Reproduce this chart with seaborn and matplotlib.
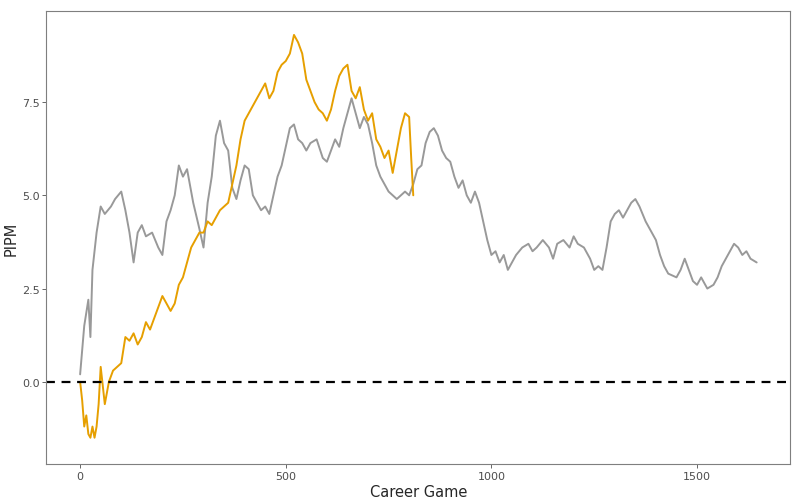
import matplotlib
matplotlib.use("Agg")
import matplotlib.pyplot as plt
import seaborn as sns

gray_x = [0,10,20,25,30,40,50,60,75,85,100,110,120,130,140,150,160,175,190,200,210,220,230,240,250,260,275,290,300,310,320,330,340,350,360,370,380,390,400,410,420,430,440,450,460,470,480,490,500,510,520,530,540,550,560,575,590,600,610,620,630,640,650,660,670,680,690,700,710,720,730,740,750,760,770,780,790,800,810,820,830,840,850,860,870,880,890,900,910,920,930,940,950,960,970,980,990,1000,1010,1020,1030,1040,1050,1060,1075,1090,1100,1110,1125,1140,1150,1160,1175,1190,1200,1210,1225,1240,1250,1260,1270,1280,1290,1300,1310,1320,1330,1340,1350,1360,1375,1390,1400,1410,1420,1430,1450,1460,1470,1480,1490,1500,1510,1525,1540,1550,1560,1575,1590,1600,1610,1620,1630,1645]
gray_y = [0.2,1.5,2.2,1.2,3.0,4.0,4.7,4.5,4.7,4.9,5.1,4.6,4.0,3.2,4.0,4.2,3.9,4.0,3.6,3.4,4.3,4.6,5.0,5.8,5.5,5.7,4.8,4.1,3.6,4.8,5.5,6.6,7.0,6.4,6.2,5.2,4.9,5.4,5.8,5.7,5.0,4.8,4.6,4.7,4.5,5.0,5.5,5.8,6.3,6.8,6.9,6.5,6.4,6.2,6.4,6.5,6.0,5.9,6.2,6.5,6.3,6.8,7.2,7.6,7.2,6.8,7.1,6.9,6.4,5.8,5.5,5.3,5.1,5.0,4.9,5.0,5.1,5.0,5.3,5.7,5.8,6.4,6.7,6.8,6.6,6.2,6.0,5.9,5.5,5.2,5.4,5.0,4.8,5.1,4.8,4.3,3.8,3.4,3.5,3.2,3.4,3.0,3.2,3.4,3.6,3.7,3.5,3.6,3.8,3.6,3.3,3.7,3.8,3.6,3.9,3.7,3.6,3.3,3.0,3.1,3.0,3.6,4.3,4.5,4.6,4.4,4.6,4.8,4.9,4.7,4.3,4.0,3.8,3.4,3.1,2.9,2.8,3.0,3.3,3.0,2.7,2.6,2.8,2.5,2.6,2.8,3.1,3.4,3.7,3.6,3.4,3.5,3.3,3.2]

orange_x = [0,5,10,15,20,25,30,35,40,45,50,55,60,65,70,80,90,100,110,120,130,140,150,160,170,180,190,200,210,220,230,240,250,260,270,280,290,300,310,320,330,340,350,360,370,380,390,400,410,420,430,440,450,460,470,480,490,500,510,520,530,540,550,560,570,580,590,600,610,620,630,640,650,660,670,680,690,700,710,720,730,740,750,760,770,780,790,800,805,810]
orange_y = [0.0,-0.5,-1.2,-0.9,-1.4,-1.5,-1.2,-1.5,-1.2,-0.6,0.4,-0.1,-0.6,-0.3,0.0,0.3,0.4,0.5,1.2,1.1,1.3,1.0,1.2,1.6,1.4,1.7,2.0,2.3,2.1,1.9,2.1,2.6,2.8,3.2,3.6,3.8,4.0,4.0,4.3,4.2,4.4,4.6,4.7,4.8,5.3,5.8,6.5,7.0,7.2,7.4,7.6,7.8,8.0,7.6,7.8,8.3,8.5,8.6,8.8,9.3,9.1,8.8,8.1,7.8,7.5,7.3,7.2,7.0,7.3,7.8,8.2,8.4,8.5,7.8,7.6,7.9,7.3,7.0,7.2,6.5,6.3,6.0,6.2,5.6,6.2,6.8,7.2,7.1,6.0,5.0]

sns.set_theme(style="white")
fig, ax = plt.subplots(figsize=(8, 5.02), dpi=100)
fig.subplots_adjust(left=0.058, right=0.988, top=0.976, bottom=0.074)
sns.lineplot(x=gray_x, y=gray_y, ax=ax, color="#999999", linewidth=1.4)
sns.lineplot(x=orange_x, y=orange_y, ax=ax, color="#E69F00", linewidth=1.4)
ax.axhline(0, color="black", linestyle=(0, (4, 3)), linewidth=1.6)
ax.set_xlim(-82, 1727)
ax.set_ylim(-2.2, 9.94)
ax.set_xticks([0, 500, 1000, 1500])
ax.set_yticks([0, 2.5, 5.0, 7.5])
ax.set_yticklabels(["0.0", "2.5", "5.0", "7.5"])
ax.tick_params(axis="both", labelsize=8, colors="#4d4d4d", length=3, left=True, bottom=True, width=0.6, pad=2)
for s in ax.spines.values():
    s.set_color("#7f7f7f")
    s.set_linewidth(0.8)
ax.set_xlabel("Career Game", fontsize=10.5, labelpad=2)
ax.set_ylabel("PIPM", fontsize=10.5, labelpad=2)
fig.savefig("out.png")
